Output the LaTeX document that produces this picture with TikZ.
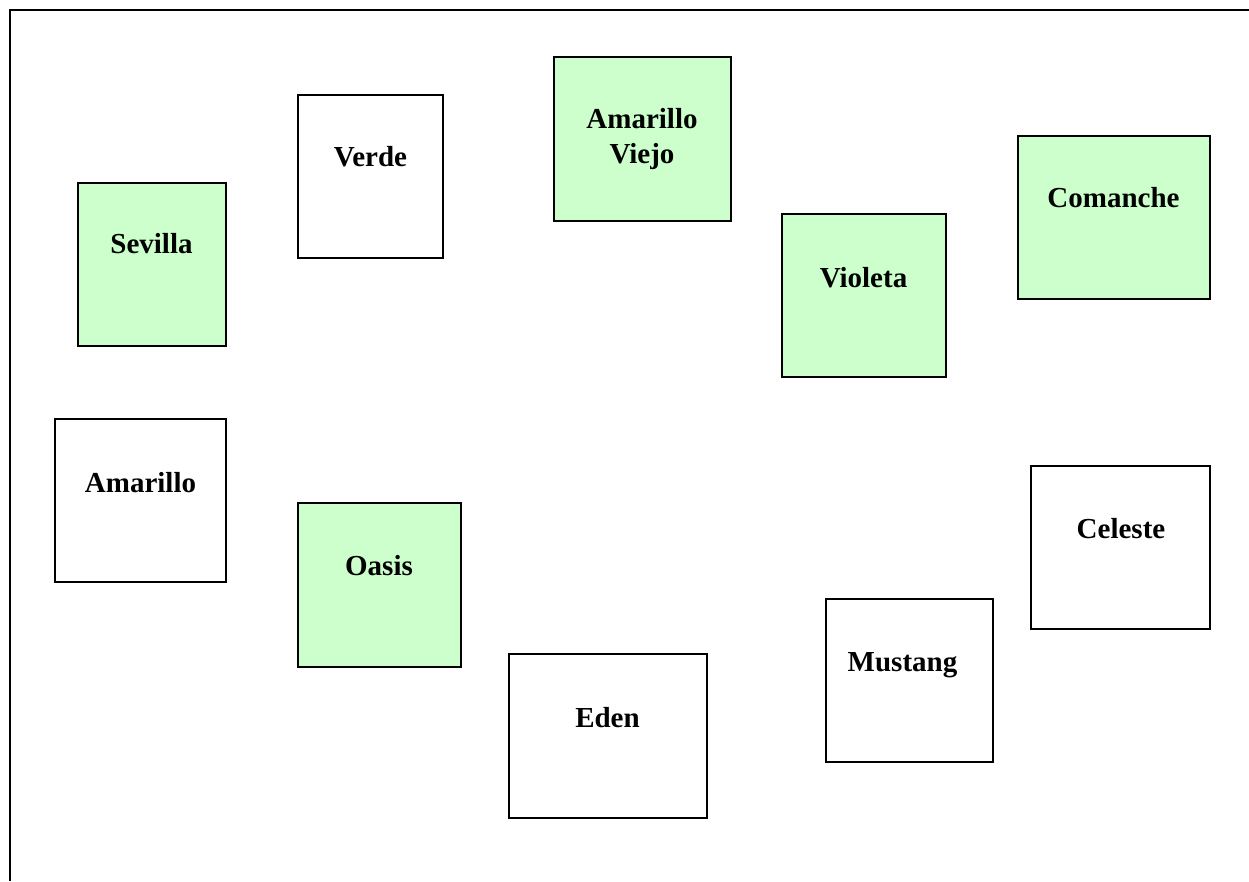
\documentclass[tikz,border=0pt]{standalone}
\usepackage{fontspec}
\setmainfont{Liberation Serif}
\definecolor{paleg}{HTML}{CCFFCC}
\begin{document}
\begin{tikzpicture}[x=1pt,y=-1pt,
  box/.style={draw=black,line width=1.8pt,inner sep=0pt,outer sep=0pt},
  gbox/.style={box,fill=paleg},
  wbox/.style={box,fill=white},
  lbl/.style={font=\fontsize{29}{35}\selectfont\bfseries,inner sep=0pt,anchor=base}]
\useasboundingbox (0,0) rectangle (1249,881);
\fill[white] (0,0) rectangle (1249,881);
\draw[line width=2pt] (10,881) -- (10,10) -- (1249,10);
% boxes: (left,top) rectangle (right,bottom)
\node[gbox,minimum width=148pt,minimum height=163pt] (sevilla) at (152,264.5) {};
\node[wbox,minimum width=145pt,minimum height=163pt] (verde) at (370.5,176.5) {};
\node[gbox,minimum width=177pt,minimum height=164pt] (amviejo) at (642.5,139) {};
\node[gbox,minimum width=164pt,minimum height=163pt] (violeta) at (864,295.5) {};
\node[gbox,minimum width=192pt,minimum height=163pt] (comanche) at (1114,217.5) {};
\node[wbox,minimum width=171pt,minimum height=163pt] (amarillo) at (140.5,500.5) {};
\node[gbox,minimum width=163pt,minimum height=164pt] (oasis) at (379.5,585) {};
\node[wbox,minimum width=198pt,minimum height=164pt] (eden) at (608,736) {};
\node[wbox,minimum width=167pt,minimum height=163pt] (mustang) at (909.5,680.5) {};
\node[wbox,minimum width=179pt,minimum height=163pt] (celeste) at (1120.5,547.5) {};
% labels
\node[lbl] (sevillat) at (151.5,253) {Sevilla};
\node[lbl] (verdet) at (370.5,166) {Verde};
\node[font=\fontsize{29}{35}\selectfont\bfseries,inner sep=0pt,align=center] (amviejot) at (642,139) {Amarillo\\Viejo};
\node[lbl] (violetat) at (863.5,287) {Violeta};
\node[lbl] (comanchet) at (1113.5,207) {Comanche};
\node[lbl] (amarillot) at (140.5,492) {Amarillo};
\node[lbl] (oasist) at (379,575) {Oasis};
\node[lbl] (edent) at (607.5,727) {Eden};
\node[lbl] (mustangt) at (902.5,671) {Mustang};
\node[lbl] (celestet) at (1121,538) {Celeste};
\end{tikzpicture}
\end{document}
